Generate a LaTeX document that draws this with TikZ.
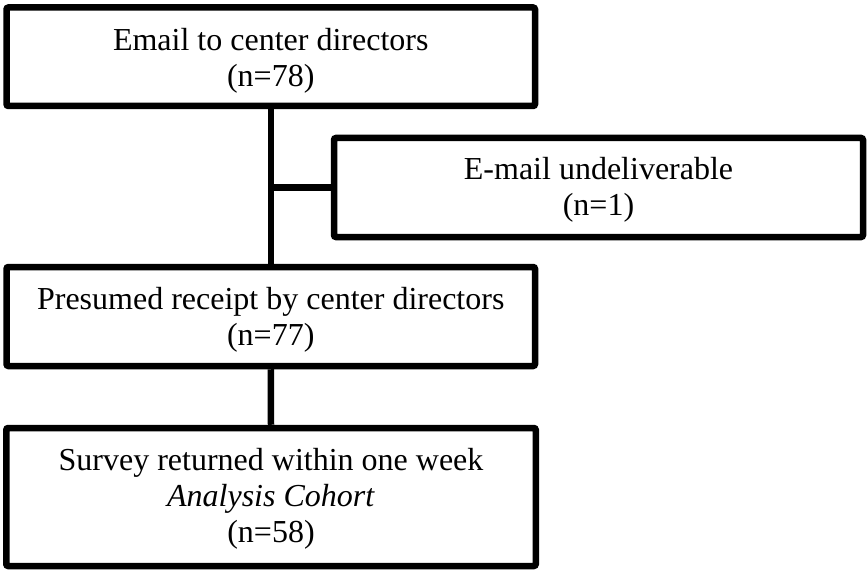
\documentclass[tikz,border=0pt]{standalone}
\usepackage{fontspec}
\setmainfont{Liberation Serif}
% centred lines of box text; the optional argument lowers the text inside its box
\newcommand\boxtext[2][0pt]{%
  \raisebox{-#1}[\height][\depth]{\begin{tabular}{@{}c@{}}#2\end{tabular}}}
\begin{document}
\begin{tikzpicture}[x=1pt,y=-1pt,
  flowbox/.style={draw=black, line width=6.5pt, rounded corners=2pt,
    inner sep=0pt, font=\fontsize{32}{36}\selectfont},
  link/.style={draw=black, line width=6.5pt}]
  \useasboundingbox (0,0) rectangle (867,572);

  \node[flowbox, minimum width=528.5pt, minimum height=98.5pt]
    (email) at (270.75,56.75) {\boxtext[5pt]{Email to center directors\\(n=78)}};
  \node[flowbox, minimum width=529pt, minimum height=99pt]
    (undeliv) at (598.5,187.5) {\boxtext[2.5pt]{E-mail undeliverable\\(n=1)}};
  \node[flowbox, minimum width=528.5pt, minimum height=99pt]
    (receipt) at (270.75,316.5) {\boxtext[4pt]{Presumed receipt by center directors\\(n=77)}};
  \node[flowbox, minimum width=529.5pt, minimum height=138pt]
    (survey) at (271,497) {\boxtext[2pt]{Survey returned within one week\\\textit{Analysis Cohort}\\(n=58)}};

  \coordinate (branch) at (email.south |- undeliv.west);
  \draw[link] (email.south) -- (receipt.north);
  \draw[link] (branch) -- (undeliv.west);
  \draw[link] (receipt.south) -- (survey.north);
\end{tikzpicture}
\end{document}
